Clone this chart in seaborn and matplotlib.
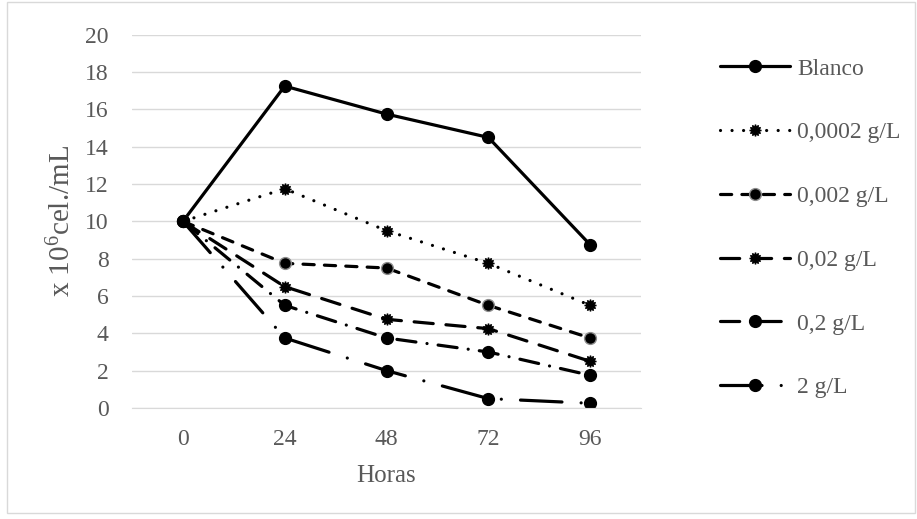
import pandas as pd
import matplotlib.pyplot as plt
import seaborn as sns
from matplotlib.patches import Rectangle

# data
horas = [0, 24, 48, 72, 96]
blanco = [10, 17.25, 15.75, 14.5, 8.75]
c_00002 = [10, 11.75, 9.5, 7.75, 5.5]
c_0002 = [10, 7.75, 7.5, 5.5, 3.75]
c_002 = [10, 6.5, 4.75, 4.25, 2.5]
c_02 = [10, 5.5, 3.75, 3.0, 1.75]
c_2 = [10, 3.75, 2.0, 0.5, 0.25]
series_names = ['Blanco', '0,0002 g/L', '0,002 g/L', '0,02 g/L', '0,2 g/L', '2 g/L']

sns.set_style('white')
plt.rcParams['font.family'] = ['Liberation Serif', 'DejaVu Serif']
grey = '#595959'

df = pd.DataFrame({'Horas': horas, 'Blanco': blanco, '0,0002 g/L': c_00002,
                   '0,002 g/L': c_0002, '0,02 g/L': c_002, '0,2 g/L': c_02, '2 g/L': c_2})

# line look for each series (dash patterns in linewidth units)
styles = {
    'Blanco': dict(linestyle='-', marker='o', mec='black'),
    '0,0002 g/L': dict(linestyle=(0, (0.01, 3.6)), marker=(12, 1, 0), mec='black'),
    '0,002 g/L': dict(linestyle=(0, (3.5, 3.2)), marker='o', mec='#8c8c8c'),
    '0,02 g/L': dict(linestyle=(0, (6, 4)), marker=(12, 1, 0), mec='black'),
    '0,2 g/L': dict(linestyle=(0, (6, 3.5, 0.01, 3.5)), marker='o', mec='black'),
    '2 g/L': dict(linestyle=(0, (13, 6, 0.01, 6)), marker='o', mec='black'),
}

fig = plt.figure(figsize=(9.17, 5.19), dpi=100)
ax = fig.add_axes([0.144, 0.214, 0.555, 0.719])

for name in series_names:
    st = styles[name]
    sns.lineplot(x='Horas', y=name, data=df, ax=ax, color='black', linewidth=2.3,
                 linestyle=st['linestyle'], marker=st['marker'], markersize=8.5,
                 markeredgecolor=st['mec'], markeredgewidth=1, markerfacecolor='black',
                 dash_capstyle='round', solid_capstyle='round', label=name)

ax.set_xlim(-12, 108)
ax.set_ylim(0, 20)
ax.set_xticks(horas)
ax.set_yticks(range(0, 21, 2))
ax.tick_params(axis='x', length=0, labelsize=17, labelcolor=grey, pad=15)
ax.tick_params(axis='y', length=0, labelsize=17, labelcolor=grey, pad=17)
ax.grid(axis='y', color='#d9d9d9', linewidth=1)
ax.set_axisbelow(True)
for s in ['top', 'right', 'left']:
    ax.spines[s].set_visible(False)
ax.spines['bottom'].set_color('#d9d9d9')

ax.set_xlabel('Horas', fontsize=18, color=grey, labelpad=11)
ax.set_ylabel(r'x 10$\mathregular{^6}$cel./mL', fontsize=21, color=grey, labelpad=6)

handles, labels = ax.get_legend_handles_labels()
ax.get_legend().remove()
leg = fig.legend(handles, labels, loc='upper left', bbox_to_anchor=(720 / 917, 1 - 58 / 519),
                 frameon=False, fontsize=17, handlelength=2.97, handletextpad=0.29,
                 labelspacing=1.79, borderpad=0, borderaxespad=0)
for t in leg.get_texts():
    t.set_color(grey)

# thin chart-area frame
fig.patches.append(Rectangle((0.008, 0.012), 0.99, 0.984, transform=fig.transFigure,
                             fill=False, edgecolor='#d9d9d9', linewidth=1))

plt.savefig('out.png', dpi=100, facecolor='white')
